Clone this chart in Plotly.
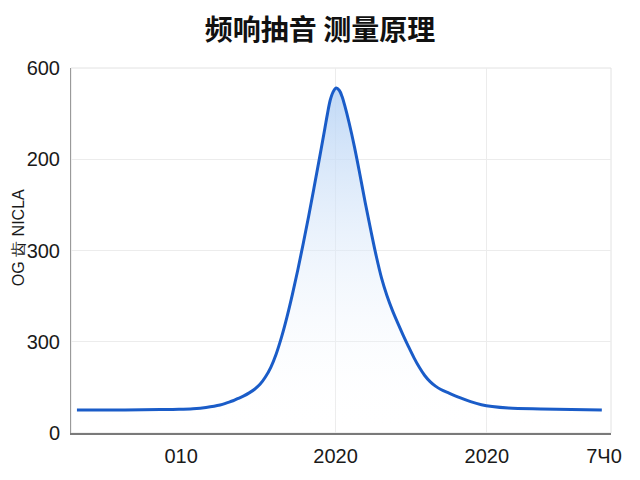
import plotly.graph_objects as go

# --- data ---
freq = [1.1, 10.0, 16.5, 20.0, 22.6, 25.0, 27.6, 29.0, 30.0, 31.0, 32.0, 33.0, 34.0,
        35.0, 36.0, 37.0, 38.0, 39.0, 40.0, 41.0, 42.0, 43.0, 44.0, 45.0, 46.0,
        47.0, 47.5, 48.0, 48.5, 49.1, 49.7, 50.2, 50.7, 51.5, 52.5, 53.5, 54.5,
        55.5, 56.5, 57.5, 58.5, 59.5, 60.5, 61.5, 62.5, 63.5, 64.5, 65.5, 66.5,
        67.5, 68.5, 70.0, 72.0, 74.0, 76.0, 78.0, 81.0, 87.0, 98.3]
level = [38, 38, 38.5, 39, 40, 42, 46, 50, 53, 57, 61, 66, 72,
         80, 92, 108, 130, 158, 191, 228, 268, 311, 356, 403, 451,
         500, 525, 547, 560, 567, 563, 553, 538, 510, 470, 425, 378,
         334, 292, 255, 226, 202, 181, 161, 142, 124, 108, 94.5, 84.5,
         77, 71.5, 65.5, 58, 51.5, 46.5, 43.5, 41, 39.5, 38]

x_tickvals = [20.4, 49.0, 77.0, 98.7]
x_ticktext = ["010", "2020", "2020", "7Ч0"]
x_gridvals = [49.0, 77.0]
y_tickvals = [0, 150, 300, 450, 600]
y_ticktext = ["0", "300", "300", "200", "600"]

title_text = "频响抽音 测量原理"
ytitle_text = "OG 齿 NICLA"

fig = go.Figure()

fig.add_trace(go.Scatter(
    x=freq,
    y=level,
    mode="lines",
    line=dict(color="#1a5cc8", width=3, shape="spline", smoothing=1),
    fill="tozeroy",
    fillgradient=dict(
        type="vertical",
        start=0,
        stop=570,
        colorscale=[[0, "rgba(255,255,255,0)"], [1, "rgba(185,212,245,0.9)"]],
    ),
    hoverinfo="skip",
    showlegend=False,
))

fig.update_layout(
    width=640,
    height=480,
    margin=dict(l=63, r=37, t=60, b=55),
    paper_bgcolor="white",
    plot_bgcolor="white",
    title=dict(
        text="<b>" + title_text + "</b>",
        x=0.4875,
        xanchor="center",
        y=0.954,
        yanchor="middle",
        font=dict(family="Noto Sans CJK SC", size=28, color="#111111"),
    ),
    xaxis=dict(
        range=[0, 100],
        tickvals=x_tickvals,
        ticktext=x_ticktext,
        showgrid=False,
        minor=dict(tickvals=x_gridvals, showgrid=True, gridcolor="#ececec", gridwidth=1, ticks=""),
        zeroline=False,
        showline=True,
        linecolor="#7a7a7a",
        linewidth=1.5,
        ticks="",
        ticklabelstandoff=4,
        tickfont=dict(family="Liberation Sans", size=20, color="#1a1a1a"),
    ),
    yaxis=dict(
        range=[0, 600],
        tickvals=y_tickvals,
        ticktext=y_ticktext,
        showgrid=True,
        gridcolor="#ececec",
        zeroline=False,
        showline=True,
        linecolor="#9a9a9a",
        linewidth=1,
        ticks="",
        ticklabelstandoff=6,
        tickfont=dict(family="Liberation Sans", size=20, color="#1a1a1a"),
    ),
    shapes=[dict(
        type="rect", xref="paper", yref="paper", x0=0, x1=1, y0=0, y1=1,
        line=dict(color="#e2e2e2", width=1), layer="below",
    )],
    annotations=[dict(
        text=ytitle_text,
        xref="paper", yref="paper",
        x=-0.098, y=0.534,
        xanchor="center", yanchor="middle",
        textangle=-90,
        showarrow=False,
        font=dict(family="Liberation Sans", size=16, color="#1a1a1a"),
    )],
)

fig.write_html("out.html")
